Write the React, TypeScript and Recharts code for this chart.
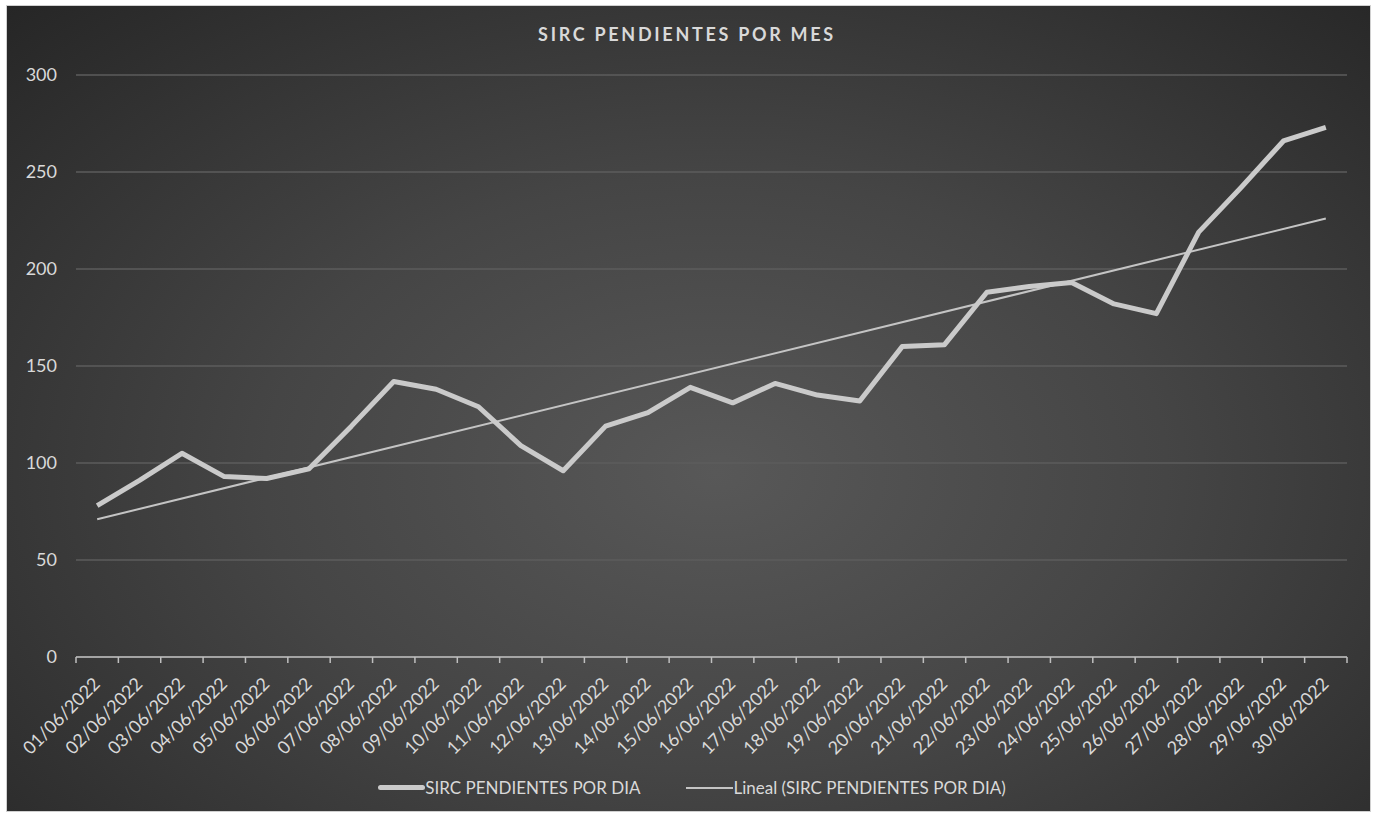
import { LineChart, Line, XAxis, YAxis, CartesianGrid } from "recharts";

// días del mes (etiquetas del eje X)
const days = [
  "01/06/2022", "02/06/2022", "03/06/2022", "04/06/2022", "05/06/2022",
  "06/06/2022", "07/06/2022", "08/06/2022", "09/06/2022", "10/06/2022",
  "11/06/2022", "12/06/2022", "13/06/2022", "14/06/2022", "15/06/2022",
  "16/06/2022", "17/06/2022", "18/06/2022", "19/06/2022", "20/06/2022",
  "21/06/2022", "22/06/2022", "23/06/2022", "24/06/2022", "25/06/2022",
  "26/06/2022", "27/06/2022", "28/06/2022", "29/06/2022", "30/06/2022",
];

// SIRC pendientes por día
const pendientes = [
  78, 91, 105, 93, 92, 97, 119, 142, 138, 129,
  109, 96, 119, 126, 139, 131, 141, 135, 132, 160,
  161, 188, 191, 193, 182, 177, 219, 242, 266, 273,
];

// extremos de la línea de tendencia lineal
const trendStart = 71;
const trendEnd = 226;

const yTicks = [0, 50, 100, 150, 200, 250, 300];

const data = days.map((day, i) => ({
  day,
  sirc: pendientes[i],
  lineal: i === 0 ? trendStart : i === days.length - 1 ? trendEnd : null,
}));

const PLOT_W = 1271;
const BAND = PLOT_W / days.length;
const TXT = "#d9d9d9";
const FONT = "Lato, 'Open Sans', sans-serif";

function DayTick(props: any) {
  const { x, y, payload, index } = props;
  const tx = x + 4;
  const ty = y + 28;
  return (
    <g>
      <line x1={x - BAND / 2} y1={y} x2={x - BAND / 2} y2={y + 6} stroke="#bfbfbf" strokeWidth={1.5} />
      {index === days.length - 1 && (
        <line x1={x + BAND / 2} y1={y} x2={x + BAND / 2} y2={y + 6} stroke="#bfbfbf" strokeWidth={1.5} />
      )}
      <text
        x={tx}
        y={ty}
        transform={`rotate(-45 ${tx} ${ty})`}
        textAnchor="end"
        fill={TXT}
        fontSize={18}
        fontFamily={FONT}
      >
        {payload.value}
      </text>
    </g>
  );
}

export default function App() {
  return (
    <div style={{ position: "absolute", left: 0, top: 0, width: 1378, height: 817, background: "#fff" }}>
      <div
        style={{
          position: "absolute",
          left: 6,
          top: 5,
          width: 1365,
          height: 807,
          border: "1px solid #d0d0d0",
          boxSizing: "border-box",
          background: "radial-gradient(ellipse at 52% 58%, #585858 0%, #454545 45%, #262626 100%)",
        }}
      />
      <div
        style={{
          position: "absolute",
          left: 0,
          width: 1374,
          top: 23,
          textAlign: "center",
          color: TXT,
          fontFamily: FONT,
          fontWeight: 700,
          fontSize: 18,
          letterSpacing: 2.7,
        }}
      >
        SIRC PENDIENTES POR MES
      </div>
      <div style={{ position: "absolute", left: 0, top: 0 }}>
        <LineChart width={1378} height={817} data={data} margin={{ top: 75, right: 31, bottom: 0, left: 0 }}>
          <CartesianGrid vertical={false} stroke="#5c5c5c" strokeWidth={1.5} />
          <XAxis
            dataKey="day"
            interval={0}
            height={160}
            padding={{ left: BAND / 2, right: BAND / 2 }}
            tickLine={false}
            tickSize={0}
            tickMargin={0}
            axisLine={{ stroke: "#bfbfbf", strokeWidth: 1.5 }}
            tick={<DayTick />}
          />
          <YAxis
            width={76}
            domain={[0, 300]}
            ticks={yTicks}
            axisLine={false}
            tickLine={false}
            tickMargin={13}
            tick={{ fill: TXT, fontSize: 18, fontFamily: FONT }}
          />
          <Line
            dataKey="lineal"
            connectNulls
            stroke="#c4c4c4"
            strokeWidth={2}
            dot={false}
            isAnimationActive={false}
          />
          <Line
            dataKey="sirc"
            stroke="#cacaca"
            strokeWidth={5}
            strokeLinejoin="round"
            dot={false}
            isAnimationActive={false}
          />
        </LineChart>
      </div>
      <div
        style={{
          position: "absolute",
          left: 0,
          width: 1384,
          top: 777,
          display: "flex",
          justifyContent: "center",
          alignItems: "center",
          color: TXT,
          fontFamily: FONT,
          fontSize: 17,
        }}
      >
        <span style={{ display: "inline-block", width: 47, height: 5, background: "#cacaca", borderRadius: 3 }} />
        <span style={{ marginRight: 46 }}>SIRC PENDIENTES POR DIA</span>
        <span style={{ display: "inline-block", width: 47, height: 2, background: "#c4c4c4" }} />
        <span>Lineal (SIRC PENDIENTES POR DIA)</span>
      </div>
    </div>
  );
}
